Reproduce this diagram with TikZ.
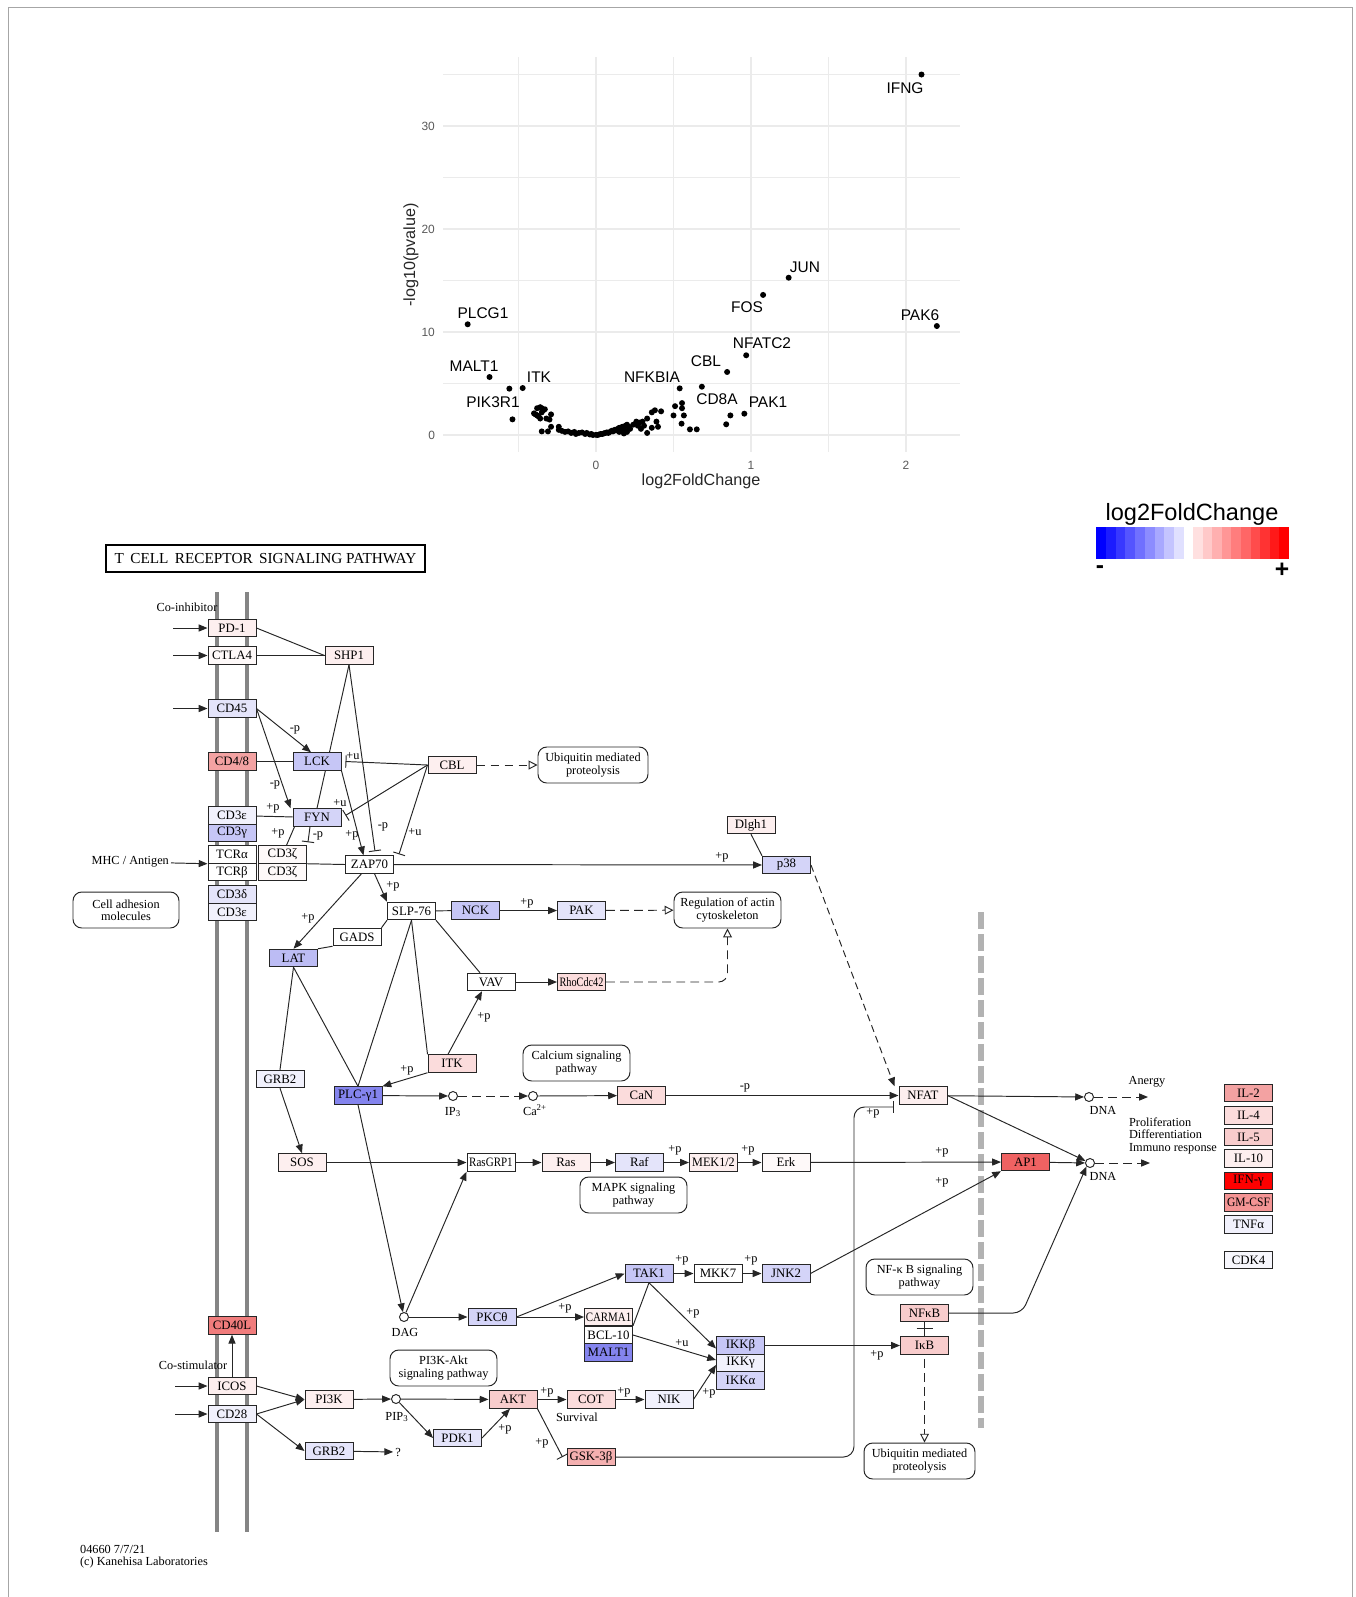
\documentclass[tikz,border=0pt]{standalone}
\usepackage{fontspec}
\usepackage{graphicx}
\setmainfont{Liberation Serif}
\newfontfamily\plotfont{Liberation Sans}
\usetikzlibrary{arrows.meta,calc}
\pgfdeclarelayer{back}
\pgfsetlayers{back,main}
\newcommand\keggfont{\fontsize{7.3}{7.5}\selectfont}
\newcommand\notefont{\fontsize{7}{6.9}\selectfont}
\definecolor{pkA}{HTML}{FDEFEF}
\definecolor{pkB}{HTML}{FBDCDC}
\definecolor{pkC}{HTML}{F8CCCC}
\definecolor{pkD}{HTML}{F4B0B0}
\definecolor{pkE}{HTML}{F3A2A2}
\definecolor{pkF}{HTML}{F07C7C}
\definecolor{pkG}{HTML}{EF6262}
\definecolor{pkH}{HTML}{F49494}
\definecolor{wtA}{HTML}{FEF9F9}
\definecolor{buA}{HTML}{F1F1FC}
\definecolor{buB}{HTML}{E4E4FA}
\definecolor{buC}{HTML}{D4D4F8}
\definecolor{buD}{HTML}{C6C6F6}
\definecolor{buE}{HTML}{BCBCF4}
\definecolor{buF}{HTML}{8484EE}
\definecolor{memb}{HTML}{858585}
\definecolor{gridc}{HTML}{EBEBEB}

\begin{document}
\begin{tikzpicture}[x=0.02cm,y=-0.02cm,>={Triangle[length=5pt,width=4pt]},
  gene/.style={draw=black!85,line width=0.55pt,minimum width=0.96cm,minimum height=0.35cm,inner sep=0pt,font=\keggfont},
  pway/.style={draw=black!85,line width=0.55pt,rounded corners=5pt,minimum width=2.14cm,minimum height=0.72cm,align=center,inner sep=0pt,font=\notefont},
  cpd/.style={circle,draw=black!85,fill=white,line width=0.55pt,inner sep=0pt,minimum size=0.18cm},
  lab/.style={font=\notefont,inner sep=1pt},
  link/.style={line width=0.55pt,draw=black!85},
  inh/.style={link,-{Bar[width=7pt]}},
  dshto/.style={link,dash pattern=on 5pt off 3pt,-{Triangle[open,length=5pt,width=5pt]}},
  dshfill/.style={link,dash pattern=on 5pt off 3pt,->},
  dot/.style={circle,fill=black,inner sep=0pt,minimum size=0.12cm},
  tick/.style={font=\plotfont\fontsize{6.8}{7}\selectfont,text=black!65,inner sep=1pt},
  glab/.style={font=\plotfont\fontsize{8.8}{9}\selectfont,inner sep=0pt}]
  \useasboundingbox (0,0) rectangle (1356,1597);
  \draw[black!35,line width=0.5pt] (8.5,1597) -- (8.5,7) -- (1352,7) -- (1352,1597);

  % volcano plot
  \begin{scope}[shift={(596,435)},xscale=155,yscale=-10.3]
    \foreach \g in {-0.5,0.5,1.5} \draw[gridc,line width=0.35pt] (\g,-1.65) -- (\g,36.7);
    \foreach \g in {5,15,25,35} \draw[gridc,line width=0.35pt] (-0.985,\g) -- (2.35,\g);
    \foreach \g in {0,1,2} \draw[gridc,line width=0.7pt] (\g,-1.65) -- (\g,36.7);
    \foreach \g in {0,10,20,30} \draw[gridc,line width=0.7pt] (-0.985,\g) -- (2.35,\g);
    \foreach \a/\b [count=\i] in {2.10/35.0,1.243/15.27,1.078/13.6,2.199/10.58,-0.828/10.75,0.969/7.74,
      0.846/6.12,-0.687/5.63,-0.473/4.56,-0.559/4.5,0.54/4.53,0.683/4.69,0.957/2.07,-0.539/1.52,
      -0.40/2.1,-0.39/2.0,-0.38/2.6,-0.36/2.7,-0.35/2.6,-0.34/2.4,-0.37/1.8,-0.35/2.2,-0.33/2.5,
      -0.32/1.6,-0.30/1.5,-0.29/2.0,-0.35/0.35,-0.31/0.35,-0.29/0.8,-0.38/1.9,-0.36/1.6,
      -0.24/0.8,-0.24/0.5,-0.22/0.4,-0.20/0.3,-0.18/0.35,-0.16/0.2,-0.14/0.3,-0.13/0.1,-0.11/0.2,
      -0.09/0.25,-0.07/0.1,-0.06/0.2,-0.04/0.05,-0.03/0.1,-0.02/0.0,0/0.02,0.01/0.0,0.02/0.05,
      0.03/0.1,0.04/0.1,0.05/0.15,0.06/0.2,0.07/0.25,0.08/0.2,0.09/0.3,0.10/0.4,0.11/0.35,0.12/0.5,
      0.13/0.45,0.14/0.6,0.15/0.7,0.16/0.55,0.17/0.8,0.18/0.65,0.19/0.9,0.20/1.0,0.21/0.8,0.15/0.3,
      0.20/0.3,0.18/0.15,0.26/1.3,0.27/0.9,0.28/1.2,0.30/1.3,0.31/0.9,0.33/0.2,0.29/0.6,0.33/1.6,
      0.36/2.2,0.38/2.4,0.42/2.3,0.39/1.3,0.40/0.8,0.36/0.7,0.24/1.0,0.22/0.6,0.50/1.9,0.51/2.8,
      0.555/3.1,0.555/2.6,0.567/1.9,0.552/1.1,0.606/0.55,0.65/0.55,0.84/1.04,0.867/1.9}
      \node[dot] (d\i) at (\a,\b) {};
  \end{scope}
  \node[glab] (lIFNG) at (905,88) {IFNG};
  \node[glab] (lJUN) at (805,267) {JUN};
  \node[glab] (lFOS) at (747,307) {FOS};
  \node[glab] (lPAK6) at (920,315) {PAK6};
  \node[glab] (lPLCG1) at (483,313) {PLCG1};
  \node[glab] (lNFATC2) at (762,343) {NFATC2};
  \node[glab] (lCBL) at (706,361) {CBL};
  \node[glab] (lMALT1) at (474,366) {MALT1};
  \node[glab] (lITK) at (539,377) {ITK};
  \node[glab] (lPIK3R1) at (493,402) {PIK3R1};
  \node[glab] (lNFKBIA) at (652,377) {NFKBIA};
  \node[glab] (lCD8A) at (717,399) {CD8A};
  \node[glab] (lPAK1) at (768,402) {PAK1};
  \foreach \v/\x in {0/596,1/751,2/906} \node[tick] (xt\v) at (\x,465) {\v};
  \foreach \v/\y in {0/435,10/332,20/229,30/126} \node[tick,anchor=east] (yt\v) at (437,\y) {\v};
  \node[font=\plotfont\fontsize{9.2}{9.5}\selectfont,text=black!85] (xtitle) at (701,481) {log2FoldChange};
  \node[font=\plotfont\fontsize{9.2}{9.5}\selectfont,text=black!85,rotate=90] (ytitle) at (411,255) {-log10(pvalue)};

  % legend
  \node[font=\plotfont\fontsize{13.4}{14}\selectfont] (legtitle) at (1192,514) {log2FoldChange};
  \foreach \i in {0,...,8} {
    \pgfmathtruncatemacro\s{100-\i*11}
    \fill[blue!\s!white] (1096+\i*9.78,527) rectangle ++(9.8,32);
  }
  \foreach \i in {0,...,9} {
    \pgfmathtruncatemacro\s{12+\i*9.78}
    \fill[red!\s!white] (1193+\i*9.6,527) rectangle ++(9.65,32);
  }
  \node[font=\plotfont\bfseries\fontsize{14}{14}\selectfont] (minus) at (1100,570) {-};
  \node[font=\plotfont\bfseries\fontsize{14}{14}\selectfont] (plus) at (1282,570) {+};

  % pathway map
  \node[draw,line width=0.9pt,minimum width=6.38cm,minimum height=0.54cm,inner sep=0pt,font=\fontsize{8.7}{8.7}\selectfont] (title) at (265.5,558.5) {T\, CELL\, RECEPTOR\, SIGNALING PATHWAY};

  \node[gene,fill=pkA] (pd1) at (232,628) {PD-1};
  \node[gene,fill=wtA] (ctla4) at (232,655.5) {CTLA4};
  \node[gene,fill=buB] (cd45) at (232,708.5) {CD45};
  \node[gene,fill=pkE] (cd48) at (232,761.5) {CD4/8};
  \node[gene,fill=buA] (cd3e) at (232,815.5) {CD3ε};
  \node[gene,fill=buD] (cd3g) at (232,833) {CD3γ};
  \node[gene,fill=white] (tcra) at (232,854.5) {TCRα};
  \node[gene,fill=white] (tcrb) at (232,872) {TCRβ};
  \node[gene,fill=buB] (cd3d) at (232,894.5) {CD3δ};
  \node[gene,fill=buA] (cd3ee) at (232,912) {CD3ε};
  \node[gene,fill=wtA] (cd3za) at (282.5,854.5) {CD3ζ};
  \node[gene,fill=wtA] (cd3zb) at (282.5,872) {CD3ζ};
  \node[gene,fill=pkF] (cd40l) at (232,1325.5) {CD40L};
  \node[gene,fill=pkA] (icos) at (232,1386) {ICOS};
  \node[gene,fill=buA] (cd28) at (232,1414) {CD28};

  \node[gene,fill=pkA] (shp1) at (349,655.5) {SHP1};
  \node[gene,fill=buD] (lck) at (317,761.5) {LCK};
  \node[gene,fill=buC] (fyn) at (317,817.5) {FYN};
  \node[gene,fill=pkA] (cbl) at (452,765) {CBL};
  \node[gene,fill=white] (zap70) at (369.5,864.5) {ZAP70};
  \node[gene,fill=pkA] (dlgh1) at (751,825) {Dlgh1};
  \node[gene,fill=buC] (p38) at (786.5,865) {p38};
  \node[gene,fill=white] (slp76) at (411.5,911) {SLP-76};
  \node[gene,fill=buD] (nck) at (475.5,910.5) {NCK};
  \node[gene,fill=buB] (pak) at (581.5,910.5) {PAK};
  \node[gene,fill=white] (gads) at (357,937) {GADS};
  \node[gene,fill=buE] (lat) at (293.5,958) {LAT};
  \node[gene,fill=white] (vav) at (491,982) {VAV};
  \node[gene,fill=pkB] (rho) at (581.5,982) {\scalebox{0.8}[1]{RhoCdc42}};
  \node[gene,fill=pkB] (itk) at (452,1063.5) {ITK};
  \node[gene,fill=buA] (grb2a) at (280,1079) {GRB2};
  \node[gene,fill=buF] (plcg) at (358,1095.5) {PLC-γ1};
  \node[gene,fill=pkB] (can) at (641.5,1095.5) {CaN};
  \node[gene,fill=pkA] (sos) at (302,1162.5) {SOS};
  \node[gene,fill=white] (rasgrp) at (491,1162.5) {\scalebox{0.86}[1]{RasGRP1}};
  \node[gene,fill=pkA] (ras) at (566,1162.5) {Ras};
  \node[gene,fill=buB] (raf) at (639.5,1162.5) {Raf};
  \node[gene,fill=pkA] (mek) at (713.5,1162.5) {\scalebox{0.95}[1]{MEK1/2}};
  \node[gene,fill=wtA] (erk) at (786,1162.5) {Erk};
  \node[gene,fill=pkA] (nfat) at (923,1095.5) {NFAT};
  \node[gene,fill=pkG] (ap1) at (1025.5,1162) {AP1};
  \node[gene,fill=buC] (pkct) at (492,1317) {PKCθ};
  \node[gene,fill=pkA] (carma) at (608.5,1317) {\scalebox{0.85}[1]{CARMA1}};
  \node[gene,fill=white] (bcl) at (608.5,1335) {BCL-10};
  \node[gene,fill=buF] (malt) at (608.5,1352.5) {MALT1};
  \node[gene,fill=buD] (tak1) at (649,1273.5) {TAK1};
  \node[gene,fill=white] (mkk7) at (718,1273.5) {MKK7};
  \node[gene,fill=buC] (jnk2) at (786,1273.5) {JNK2};
  \node[gene,fill=buD] (ikkb) at (740.5,1345.5) {IKKβ};
  \node[gene,fill=buA] (ikkg) at (740.5,1363) {IKKγ};
  \node[gene,fill=buC] (ikka) at (740.5,1380.5) {IKKα};
  \node[gene,fill=pkC] (nfkb) at (924.5,1313) {NFκB};
  \node[gene,fill=pkC] (ikb) at (924.5,1345.5) {IκB};
  \node[gene,fill=pkA] (pi3k) at (329,1399.5) {PI3K};
  \node[gene,fill=buB] (grb2b) at (329,1451) {GRB2};
  \node[gene,fill=pkC] (akt) at (513,1399.5) {AKT};
  \node[gene,fill=buB] (pdk1) at (457.5,1438) {PDK1};
  \node[gene,fill=pkB] (cot) at (591,1399.5) {COT};
  \node[gene,fill=buA] (nik) at (669,1399.5) {NIK};
  \node[gene,fill=pkD] (gsk) at (591,1457) {GSK-3β};

  \node[gene,fill=pkE] (il2) at (1248.5,1093) {IL-2};
  \node[gene,fill=pkB] (il4) at (1248.5,1115.5) {IL-4};
  \node[gene,fill=pkC] (il5) at (1248.5,1137) {IL-5};
  \node[gene,fill=pkA] (il10) at (1248.5,1158.5) {IL-10};
  \node[gene,fill=red] (ifng) at (1248.5,1181) {IFN-γ};
  \node[gene,fill=pkH] (gmcsf) at (1248.5,1202.5) {\scalebox{0.9}[1]{GM-CSF}};
  \node[gene,fill=buA] (tnfa) at (1248.5,1224.5) {TNFα};
  \node[gene,fill=buA!60] (cdk4) at (1248.5,1260) {CDK4};

  \node[pway,minimum width=2.2cm] (ubq1) at (593,765) {Ubiquitin mediated\\proteolysis};
  \node[pway] (actin) at (727.5,910) {Regulation of actin\\cytoskeleton};
  \node[pway,minimum width=2.12cm] (adhes) at (126,910) {Cell adhesion\\molecules};
  \node[pway] (calc) at (576.5,1063) {Calcium signaling\\pathway};
  \node[pway] (mapk) at (633.5,1195) {MAPK signaling\\pathway};
  \node[pway] (piakt) at (443.5,1368) {PI3K-Akt\\signaling pathway};
  \node[pway] (nfkbp) at (919.5,1277) {NF-κ B signaling\\pathway};
  \node[pway,minimum width=2.22cm] (ubq2) at (919.5,1461) {Ubiquitin mediated\\proteolysis};

  \node[cpd] (ip3) at (453,1096) {};
  \node[cpd] (ca) at (533,1096) {};
  \node[cpd] (dag) at (404,1317) {};
  \node[cpd] (pip3) at (396,1399) {};
  \node[cpd] (dna1) at (1089,1097) {};
  \node[cpd] (dna2) at (1090,1163) {};
  \node[lab] (ip3l) at (453,1112) {IP\textsubscript{3}};
  \node[lab] (cal) at (535,1110) {Ca\textsuperscript{2+}};
  \node[lab] (dagl) at (405,1332) {DAG};
  \node[lab] (pip3l) at (397,1417) {PIP\textsubscript{3}};
  \node[lab] (dna1l) at (1103,1110) {DNA};
  \node[lab] (dna2l) at (1103,1176) {DNA};

  \node[lab] (coinh) at (187,607) {Co-inhibitor};
  \node[lab] (costim) at (193,1365) {Co-stimulator};
  \node[lab,anchor=east] (mhc) at (171,862) {MHC / Antigen};
  \node[lab] (anergy) at (1147,1082) {Anergy};
  \node[lab,align=left,anchor=north west] (prolif) at (1127,1116) {Proliferation\\Differentiation\\Immuno response};
  \node[lab] (survival) at (577,1417) {Survival};
  \node[lab] (qmark) at (398,1452) {?};
  \node[lab,align=left,anchor=north west] (foot) at (78,1543) {04660 7/7/21\\(c) Kanehisa Laboratories};

  \coordinate (in1) at (173,628);
  \coordinate (in2) at (173,655.5);
  \coordinate (in3) at (173,708.5);
  \coordinate (in4) at (175,1386);
  \coordinate (in5) at (175,1414);
  \coordinate (anergyend) at (1148,1097);
  \coordinate (prolifend) at (1150,1163);

  \begin{pgfonlayer}{back}
  \draw[memb,line width=0.08cm] (217,592) -- (217,1532);
  \draw[memb,line width=0.08cm] (247,592) -- (247,1532);
  \draw[black!30,line width=0.12cm,dash pattern=on 0.34cm off 0.1cm] (981,912) -- (981,1428);

  \draw[link,->] (in1) -- (pd1);
  \draw[link,->] (in2) -- (ctla4);
  \draw[link,->] (in3) -- (cd45);
  \draw[link,->] (mhc) -- (tcra.south west);
  \draw[link,->] (in4) -- (icos);
  \draw[link,->] (in5) -- (cd28);

  \draw[link] (pd1.east) -- (shp1.west);
  \draw[link] (ctla4) -- (shp1);
  \draw[link] (shp1.south) -- (fyn.north);
  \draw[inh] (shp1.south) -- ($(zap70.north)+(5.5,-4)$) node[lab] at (383,827) {-p};
  \draw[link,->] (cd45.east) -- ($(lck.north)+(-6,0)$) node[lab] at (295,730) {-p};
  \draw[link,->] (cd45.east) -- ($(fyn.north west)+(-2,0)$) node[lab] at (275,785) {-p};
  \draw[link] (cd48) -- (lck);
  \draw[inh] (cbl.west) -- ($(lck.east)+(4,0)$) node[lab] at (353,756) {+u};
  \draw[inh] (cbl.west) -- ($(fyn.east)+(4,-2)$) node[lab] at (340,803) {+u};
  \draw[inh] (cbl.west) -- ($(zap70.north east)+(5,-1)$) node[lab] at (415,832) {+u};
  \draw[link,->] (lck.south east) -- ($(zap70.north)+(-6,0)$) node[lab] at (352,835) {+p};
  \draw[link] (cd3e) -- (fyn) node[lab] at (273,808) {+p};
  \draw[link] ($(cd3za.north)+(4,0)$) -- ($(fyn.south west)+(2,0)$) node[lab] at (278,833) {+p};
  \draw[inh] ($(fyn.south)+(-7,0)$) -- ($(cd3za.north east)+(1,-3)$) node[lab] at (318,836) {-p};
  \draw[link] (cd3za.south east) -- (zap70.west);
  \draw[dshto] (cbl) -- (ubq1);

  \draw[link,->] (zap70) -- (p38) node[lab] at (722,857) {+p};
  \draw[link] (dlgh1.south) -- (p38.north west);
  \draw[dshfill,dash pattern=on 4pt off 2.5pt] (p38.east) -- ($(nfat.north west)+(-4,0)$);
  \draw[link,->] ($(zap70.south)+(5,0)$) -- (slp76.north west) node[lab] at (393,886) {+p};
  \draw[link,->] ($(zap70.south)+(-8,0)$) -- (lat.north) node[lab] at (308,918) {+p};
  \draw[link] (lat.north east) -- (gads.south west);
  \draw[link] (gads.north east) -- (slp76.south west);
  \draw[link] (slp76) -- (nck);
  \draw[link,->] (nck) -- (pak) node[lab] at (527,903) {+p};
  \draw[dshto] (pak) -- (actin);
  \draw[link] (slp76.south) -- (plcg.north);
  \draw[link] (slp76.south) -- (itk.north west);
  \draw[link] (slp76.south east) -- ($(vav.north)+(-11,0)$);
  \draw[link] (lat.south) -- (grb2a.north);
  \draw[link] (lat.south) -- (plcg.north);
  \draw[link,->] (grb2a.south) -- (sos.north);
  \draw[link,->] (itk.south west) -- (plcg.north east) node[lab] at (407,1070) {+p};
  \draw[link,->] ($(itk.north)+(-4,0)$) -- ($(vav.south)+(-9,0)$) node[lab] at (484,1017) {+p};
  \draw[link,->] (vav) -- (rho);
  \draw[dshto,rounded corners=5pt] (rho.east) -| (actin.south);

  \draw[link,->] (plcg) -- (ip3);
  \draw[dshfill] (ip3) -- (ca);
  \draw[link,->] (ca) -- (can);
  \draw[link,->] (can) -- (nfat) node[lab] at (745,1088) {-p};
  \draw[link,->] (plcg.south) -- (dag);
  \draw[link,->] (dag) -- (rasgrp.south west);
  \draw[link,->] (dag) -- (pkct);
  \draw[link,->] (sos) -- (rasgrp);
  \draw[link,->] (rasgrp) -- (ras);
  \draw[link,->] (ras) -- (raf);
  \draw[link,->] (raf) -- (mek) node[lab] at (675,1150) {+p};
  \draw[link,->] (mek) -- (erk) node[lab] at (748,1150) {+p};
  \draw[link,->] (erk) -- (ap1) node[lab] at (942,1152) {+p};
  \draw[link,->] (jnk2.east) -- (ap1.south west) node[lab] at (942,1182) {+p};
  \draw[link,->] (nfat) -- (dna1);
  \draw[dshfill] (dna1) -- (anergyend);
  \draw[link,->] (nfat.east) -- (dna2);
  \draw[link,->] (ap1) -- (dna2);
  \draw[dshfill] (dna2) -- (prolifend);
  \draw[link,->,rounded corners=5pt] (nfkb.east) -- (1022,1313) -- (dna2.south west);
  \draw[inh,rounded corners=6pt] (gsk.east) -- (854,1457) -- (854,1107) -- (894,1107) node[lab] at (873,1113) {+p};

  \draw[link,->] (pkct.east) -- (tak1.west);
  \draw[link,->] (pkct) -- (carma) node[lab] at (565,1308) {+p};
  \draw[link,->] (tak1) -- (mkk7) node[lab] at (682,1260) {+p};
  \draw[link,->] (mkk7) -- (jnk2) node[lab] at (751,1260) {+p};
  \draw[link] (tak1.south) -- (bcl.north east);
  \draw[link,->] (tak1.south) -- ($(ikkb.west)+(0,3)$) node[lab] at (693,1313) {+p};
  \draw[link,->] (bcl.east) -- ($(ikkg.west)+(0,-3)$) node[lab] at (682,1343) {+u};
  \draw[link,->] (nik.east) -- ($(ikkg.west)+(0,2)$) node[lab] at (709,1393) {+p};
  \draw[link,->] (ikkb) -- (ikb) node[lab] at (877,1355) {+p};
  \draw[link] (nfkb) -- (ikb);
  \draw[link] ($(nfkb.south)+(-8,6)$) -- ($(nfkb.south)+(8,6)$);
  \draw[dshto] ($(ikb.south)+(0,4)$) -- (ikb.south |- ubq2.north);

  \draw[link,->] (icos) -- (cd40l);
  \draw[link,->] (icos.east) -- (pi3k.west);
  \draw[link,->] (cd28.east) -- (pi3k.west);
  \draw[link,->] (cd28.east) -- (grb2b.west);
  \draw[link,->] (grb2b) -- (qmark);
  \draw[link,->] (pi3k) -- (pip3);
  \draw[link,->] (pip3) -- (akt);
  \draw[link,->] (pip3) -- (pdk1.west);
  \draw[link,->] (pdk1.east) -- ($(akt.south)+(-3,0)$) node[lab] at (505,1429) {+p};
  \draw[link,->] (akt) -- (cot) node[lab] at (547,1392) {+p};
  \draw[inh] (akt.south east) -- ($(gsk.west)+(-4,0)$) node[lab] at (542,1443) {+p};
  \draw[link,->] (cot) -- (nik) node[lab] at (624,1392) {+p};
  \end{pgfonlayer}
\end{tikzpicture}
\end{document}
